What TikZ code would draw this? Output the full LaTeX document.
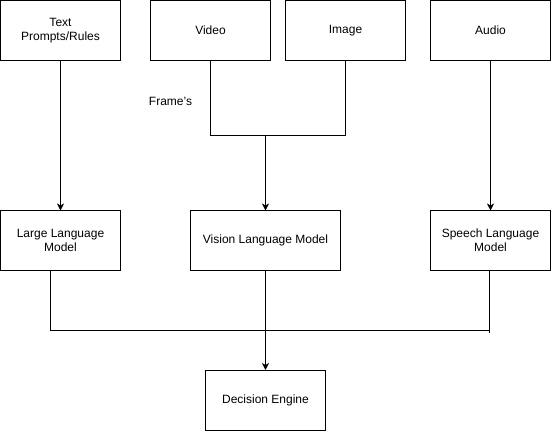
\documentclass[tikz,border=0pt]{standalone}
\usepackage{fontspec}
\setmainfont{Liberation Sans}
\usetikzlibrary{arrows.meta}
\begin{document}
\begin{tikzpicture}[x=1pt,y=-1pt,
  box/.style={draw=black,line width=1pt,fill=white,minimum width=120pt,minimum height=60pt,inner sep=2pt,align=center,font=\fontsize{12}{14}\selectfont,outer sep=0pt},
  conn/.style={draw=black,line width=1pt},
  arr/.style={conn,-{Stealth[length=7pt,width=7pt,inset=2pt]}}]
\useasboundingbox (0,0) rectangle (551,431);
\node[box] (txt) at (60.5,30.5) {Text\\Prompts/Rules};
\node[box] (video) at (210.5,30.5) {Video};
\node[box] (image) at (345.5,30.5) {Image};
\node[box] (audio) at (490.5,30.5) {Audio};
\node[box] (llm) at (60.5,240.5) {Large Language\\Model};
\node[box,minimum width=150pt] (vlm) at (265.5,240.5) {Vision Language Model};
\node[box] (slm) at (490.5,240.5) {Speech Language\\Model};
\node[box] (dec) at (265.5,400) {Decision Engine};
\node[font=\fontsize{12}{14}\selectfont,inner sep=0pt] (frames) at (170.5,101.5) {Frame\char"0027 s};
\coordinate (j) at (265.5,135.5);
\coordinate (b) at (265.5,330.5);
\draw[arr] (txt.south) -- (llm.north);
\draw[arr] (audio.south) -- (slm.north);
\draw[conn] (video.south) |- (j);
\draw[conn] (image.south) |- (j);
\draw[arr] (j) -- (vlm.north);
\draw[conn] ([xshift=-10pt]llm.south) |- (b) -| ([xshift=-1.5pt]slm.south);
\draw[conn] ([xshift=-1.5pt]slm.south |- b) -- ++(0,2);
\draw[arr] (vlm.south) -- (dec.north);
\end{tikzpicture}
\end{document}
